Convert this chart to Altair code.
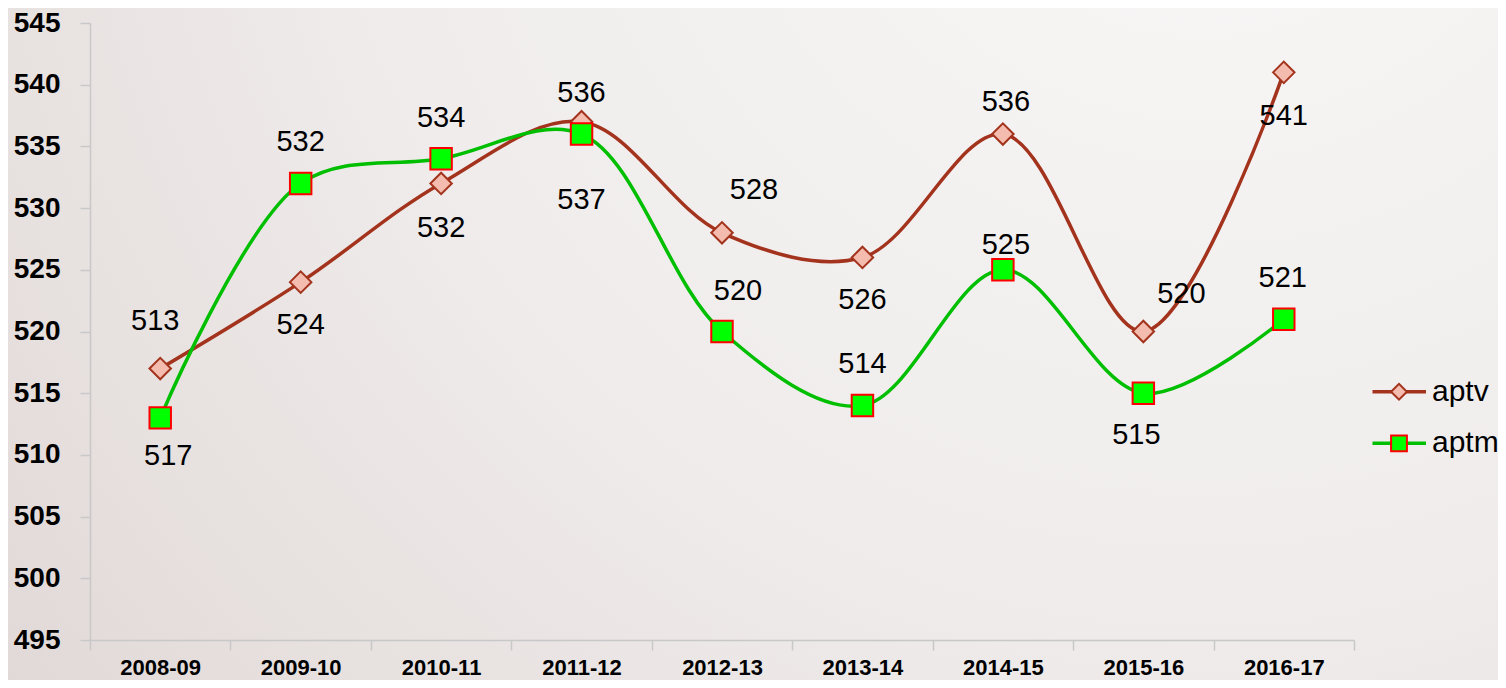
import altair as alt
import pandas as pd

# ---------------- data ----------------
CATEGORIES = ["2008-09", "2009-10", "2010-11", "2011-12", "2012-13",
              "2013-14", "2014-15", "2015-16", "2016-17"]
SERIES = ["aptv", "aptm"]
APTV = [517, 524, 532, 537, 528, 526, 536, 520, 541]
APTM = [513, 532, 534, 536, 520, 514, 525, 515, 521]
APTV_LABELS = ["513", "524", "532", "536", "528", "526", "536", "520", "541"]
APTM_LABELS = ["517", "532", "534", "537", "520", "514", "525", "515", "521"]
Y_TICKS = [495, 500, 505, 510, 515, 520, 525, 530, 535, 540, 545]

# ---------------- styles ----------------
DARK_RED = "#A3331D"
SALMON = "#F4BCAE"
GREEN_LINE = "#00BF00"
GREEN_FILL = "#00FF00"
RED = "#FF0000"
AXIS_GREY = "#C8C8C8"
FONT = "Liberation Sans"

# label placement: pixel offsets of each data label from its point
APTV_LABEL_DX = [-5, 0, 0, 0, 32, 0, 3, 38, 0]
APTV_LABEL_DY = [-48, 43, 45, -29, -43, 43, -32, -38, 44]
APTM_LABEL_DX = [8, 0, 0, 0, 16, 0, 3, -7, -1]
APTM_LABEL_DY = [38, -41, -41, 66, -41, -42, -25, 42, -41]

W, H = 1264, 617
PAD = {"left": 82, "top": 15, "right": 144, "bottom": 40}

# legend layout (pixels, relative to the plot area)
LEG_ROWS = [368.7, 420.3]
LEG_LINE_X = (1282.5, 1336)
LEG_SYMBOL_X = 1309
LEG_TEXT_X = 1342

rows = []
for s, vals, labs, dxs, dys in [
    ("aptv", APTV, APTV_LABELS, APTV_LABEL_DX, APTV_LABEL_DY),
    ("aptm", APTM, APTM_LABELS, APTM_LABEL_DX, APTM_LABEL_DY),
]:
    for c, v, lab, dx, dy in zip(CATEGORIES, vals, labs, dxs, dys):
        rows.append({"category": c, "series": s, "value": v,
                     "label": lab, "dx": dx, "dy": dy})
df = pd.DataFrame(rows)
leg_df = pd.DataFrame({"series": SERIES})

x_enc = alt.X(
    "category:N", sort=CATEGORIES,
    scale=alt.Scale(type="band", paddingInner=0, paddingOuter=0),
    axis=alt.Axis(title=None, labelAngle=0, labelFont=FONT, labelFontWeight="bold",
                  labelFontSize=22, labelColor="black", tickBand="extent",
                  tickSize=10, tickColor=AXIS_GREY, tickWidth=1.5,
                  domainColor=AXIS_GREY, domainWidth=1.5,
                  labelPadding=7, grid=False, zindex=1),
)
y_enc = alt.Y(
    "value:Q",
    scale=alt.Scale(domain=[495, 545], nice=False, zero=False),
    axis=alt.Axis(title=None, values=Y_TICKS, labelFont=FONT, labelFontWeight="bold",
                  labelFontSize=28, labelColor="black", tickSize=10,
                  tickColor=AXIS_GREY, tickWidth=1.5, domainColor=AXIS_GREY,
                  domainWidth=1.5, labelPadding=20, grid=False, zindex=1),
)

line_color = alt.Color("series:N", sort=SERIES,
                       scale=alt.Scale(domain=SERIES, range=[DARK_RED, GREEN_LINE]),
                       legend=None)
pt_shape = alt.Shape("series:N", sort=SERIES,
                     scale=alt.Scale(domain=SERIES, range=["diamond", "square"]),
                     legend=None)
pt_fill = alt.Fill("series:N", sort=SERIES,
                   scale=alt.Scale(domain=SERIES, range=[SALMON, GREEN_FILL]),
                   legend=None)
pt_stroke = alt.Stroke("series:N", sort=SERIES,
                       scale=alt.Scale(domain=SERIES, range=[DARK_RED, RED]),
                       legend=None)

# background gradient (decoration)
bg = alt.Chart(pd.DataFrame({"k": [0]})).mark_rect(
    fill=alt.Gradient(
        gradient="radial", x1=0.8, y1=0.1, x2=0.8, y2=0.1, r1=0, r2=1.15,
        stops=[alt.GradientStop(offset=0, color="#F9F8F8"),
               alt.GradientStop(offset=0.5, color="#EFECEB"),
               alt.GradientStop(offset=1, color="#DDD3D1")],
    )
).encode(
    x=alt.value(-PAD["left"] - 8), x2=alt.value(W + PAD["right"] + 8),
    y=alt.value(-PAD["top"] - 8), y2=alt.value(H + PAD["bottom"] + 8),
)

lines = alt.Chart(df).mark_line(interpolate="catmull-rom", strokeWidth=3.5).encode(
    x=x_enc, y=y_enc, color=line_color,
)

points = alt.Chart(df).mark_point(filled=True, size=460, strokeWidth=2, opacity=1).encode(
    x=x_enc, y=y_enc, shape=pt_shape, fill=pt_fill, stroke=pt_stroke,
)

labels = alt.Chart(df).mark_text(
    font=FONT, fontSize=29, color="black", baseline="middle", align="center",
    dx=alt.expr("datum.dx"), dy=alt.expr("datum.dy"),
).encode(x=x_enc, y=y_enc, text="label:N")

main = alt.layer(bg, lines, points, labels)

# ---------------- legend ----------------
leg_y = alt.Y("series:N", sort=SERIES,
              scale=alt.Scale(type="point", domain=SERIES, range=LEG_ROWS, padding=0),
              axis=None)
leg_line = alt.Chart(leg_df).mark_rule(strokeWidth=3.5).encode(
    x=alt.value(LEG_LINE_X[0]), x2=alt.value(LEG_LINE_X[1]), y=leg_y, color=line_color,
)
leg_pt = alt.Chart(leg_df).mark_point(filled=True, size=250, strokeWidth=2, opacity=1).encode(
    x=alt.value(LEG_SYMBOL_X), y=leg_y, shape=pt_shape, fill=pt_fill, stroke=pt_stroke,
)
leg_text = alt.Chart(leg_df).mark_text(
    font=FONT, fontSize=30, color="black", align="left", baseline="middle",
).encode(x=alt.value(LEG_TEXT_X), y=leg_y, text="series:N")
legend = alt.layer(leg_line, leg_pt, leg_text)

chart = alt.layer(main, legend).resolve_scale(y="independent").properties(
    width=W, height=H,
    autosize=alt.AutoSizeParams(type="none"),
    padding=PAD,
    background="#ECE8E6",
).configure_view(stroke=None)

chart.save("out.html", embed_options={"renderer": "svg", "actions": False})
